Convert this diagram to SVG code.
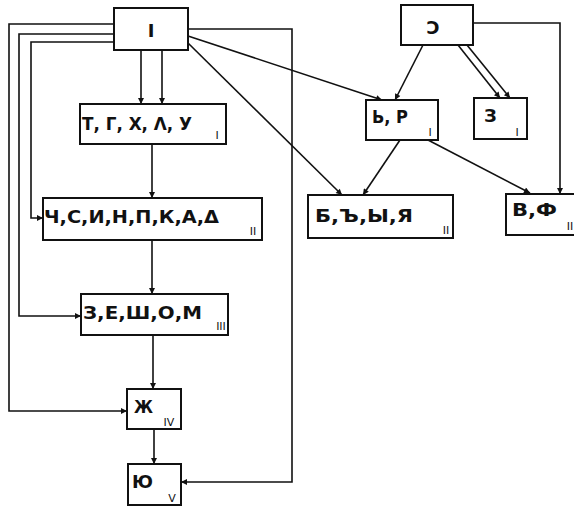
<svg xmlns="http://www.w3.org/2000/svg" width="574" height="507" viewBox="0 0 574 507">
<style>
.box{fill:#fff;stroke:#111;stroke-width:2}
.lbl{font-family:"DejaVu Sans","Liberation Sans",sans-serif;font-weight:bold;font-size:18px;fill:#111}
.sub{font-family:"DejaVu Sans","Liberation Sans",sans-serif;font-size:11px;fill:#111}
.con{fill:none;stroke:#111;stroke-width:1.6}
</style>
<defs>
<marker id="ah" viewBox="0 0 10 10" refX="10" refY="5" markerWidth="9" markerHeight="6" markerUnits="userSpaceOnUse" orient="auto">
<path d="M0,0 L10,5 L0,10 z" fill="#111"/>
</marker>
</defs>
<rect width="574" height="507" fill="#fff"/>
<g id="connectors" class="con" marker-end="url(#ah)">
<path d="M141,50 V104"/>
<path d="M162,50 V104"/>
<path d="M152,144 V198"/>
<path d="M152,240 V294"/>
<path d="M153,335 V389"/>
<path d="M154,429 V464"/>
<path d="M114,24 H9 V411 H127"/>
<path d="M114,34 H19 V316 H81"/>
<path d="M114,42 H31 V218 H43"/>
<path d="M188,29 H292 V482 H181"/>
<path d="M188,36 L382,100"/>
<path d="M188,43 L342,195"/>
<path d="M423,45 L395,100"/>
<path d="M458,45 L500,98"/>
<path d="M467,45 L510,98"/>
<path d="M473,23 H560 V194"/>
<path d="M400,140 L363,195"/>
<path d="M428,140 L530,193"/>
</g>
<g id="nI">
<rect class="box" x="114" y="8" width="74" height="42"/>
<text class="lbl" x="151" y="37" font-size="24" text-anchor="middle">I</text>
</g>
<g id="nT">
<rect class="box" x="80" y="104" width="146" height="40"/>
<text class="lbl" x="82" y="130" textLength="110" lengthAdjust="spacingAndGlyphs">Т, Г, Х, Λ, У</text>
<text class="sub" x="217" y="139" text-anchor="middle">I</text>
</g>
<g id="nCh">
<rect class="box" x="43" y="198" width="219" height="42"/>
<text class="lbl" x="44" y="223" textLength="175" lengthAdjust="spacingAndGlyphs">Ч,С,И,Н,П,К,А,Δ</text>
<text class="sub" x="253" y="235" text-anchor="middle">II</text>
</g>
<g id="nZ">
<rect class="box" x="81" y="294" width="147" height="41"/>
<text class="lbl" x="83" y="319" textLength="119" lengthAdjust="spacingAndGlyphs">З,Е,Ш,О,М</text>
<text class="sub" x="221" y="330" text-anchor="middle">III</text>
</g>
<g id="nZh">
<rect class="box" x="127" y="389" width="54" height="40"/>
<text class="lbl" x="134" y="413" textLength="19" lengthAdjust="spacingAndGlyphs">Ж</text>
<text class="sub" x="169" y="426" text-anchor="middle">IV</text>
</g>
<g id="nYu">
<rect class="box" x="128" y="464" width="53" height="41"/>
<text class="lbl" x="132" y="488" textLength="21" lengthAdjust="spacingAndGlyphs">Ю</text>
<text class="sub" x="172" y="502" text-anchor="middle">V</text>
</g>
<g id="nC">
<rect class="box" x="401" y="5" width="72" height="40"/>
<text class="lbl" x="433" y="34" font-size="28" text-anchor="middle">Ɔ</text>
</g>
<g id="nBR">
<rect class="box" x="366" y="100" width="72" height="40"/>
<text class="lbl" x="372" y="123" textLength="36" lengthAdjust="spacingAndGlyphs">Ь, Р</text>
<text class="sub" x="430" y="136" text-anchor="middle">I</text>
</g>
<g id="nZ2">
<rect class="box" x="474" y="98" width="53" height="41"/>
<text class="lbl" x="484" y="122">З</text>
<text class="sub" x="517" y="136" text-anchor="middle">I</text>
</g>
<g id="nB">
<rect class="box" x="308" y="195" width="145" height="43"/>
<text class="lbl" x="315" y="222" textLength="98" lengthAdjust="spacingAndGlyphs">Б,Ъ,Ы,Я</text>
<text class="sub" x="446" y="234" text-anchor="middle">II</text>
</g>
<g id="nVF">
<rect class="box" x="506" y="194" width="80" height="41"/>
<text class="lbl" x="512" y="216" textLength="45" lengthAdjust="spacingAndGlyphs">В,Ф</text>
<text class="sub" x="570" y="230" text-anchor="middle">II</text>
</g>
</svg>
